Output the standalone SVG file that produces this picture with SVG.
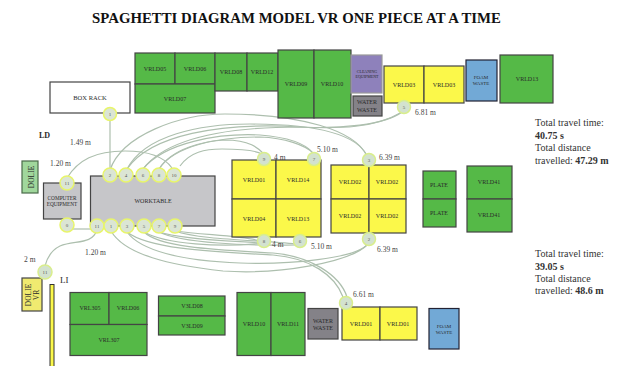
<svg xmlns="http://www.w3.org/2000/svg" width="618" height="366" viewBox="0 0 618 366">
<style>
text{font-family:"Liberation Serif",serif;fill:#2a2a2a}
.l{font-size:6px;text-anchor:middle}
.b{stroke:#444;stroke-width:1.2}
.g{fill:#55b947}.y{fill:#fbf84a}.gr{fill:#c6c6c9}.bl{fill:#72a9d6}.w{fill:#848288}
.n{fill:#dbe5d4;stroke:#e8f56a;stroke-width:1.5}
.ng{fill:#d3e2cf;stroke:#d9ee8c;stroke-width:1.5}
.t{font-size:5px;text-anchor:middle;fill:#555}
.d{font-size:7.5px;fill:#444}
.s{font-size:10px;fill:#333}
.c{fill:none;stroke:#adbfae;stroke-width:1.2}
</style>
<rect width="618" height="366" fill="#fff"/>
<text x="296.500" y="23" text-anchor="middle" font-size="14.800" font-weight="bold" style="fill:#111">SPAGHETTI DIAGRAM MODEL VR ONE PIECE AT A TIME</text>
<g id="connectors">
<path class="c" d="M110 118V170"/>
<path class="c" d="M110 170C122 135 180 114 225 114C300 114 355 130 367 156"/>
<path class="c" d="M127 169C145 135 200 124 250 124C300 124 355 130 367 156"/>
<path class="c" d="M127 169C150 135 220 122 300 127C340 129 385 125 402 112"/>
<path class="c" d="M143 169C165 140 220 127 300 127C340 129 375 128 402 112"/>
<path class="c" d="M143 169C165 142 220 133 260 135C285 137 305 143 313 153"/>
<path class="c" d="M159 169C175 145 220 137 260 137C285 138 305 145 313 153"/>
<path class="c" d="M159 169C172 148 205 141 225 140C250 140 258 148 264 154"/>
<path class="c" d="M180 166C190 152 205 149 222 149C240 149 255 150 262 154"/>
<path class="c" d="M67 178C78 160 95 151 125 151C150 151 165 158 172 168"/>
<path class="c" d="M72 229H97"/>
<path class="c" d="M97 230C92 245 75 240 60 246C52 250 47 258 45 266"/>
<path class="c" d="M111 231C125 255 170 265 223 271C280 275 350 262 367 245"/>
<path class="c" d="M127 232C140 250 180 261 240 263C290 265 355 258 367 245"/>
<path class="c" d="M127 232C150 250 220 252 273 255C310 258 335 275 343 297"/>
<path class="c" d="M144 232C160 248 220 250 273 253C310 256 340 275 347 297"/>
<path class="c" d="M144 232C165 244 220 248 264 243"/>
<path class="c" d="M159 232C180 243 250 246 296 245"/>
<path class="c" d="M159 232C185 240 235 241 260 243"/>
<path class="c" d="M175 231C200 240 260 240 296 244"/>
<path class="c" d="M175 231C205 235 245 236 260 241"/>
</g>
<g id="box-rack"><rect class="b" x="50" y="82" width="80" height="31" fill="#fff"/><text class="l" x="90" y="100" style="font-size:6.500px">BOX RACK</text></g>
<g id="vrld05"><rect class="b g" x="135" y="53" width="40" height="31"/><text class="l" x="155" y="71">VRLD05</text></g>
<g id="vrld06"><rect class="b g" x="175" y="53" width="40" height="31"/><text class="l" x="195" y="71">VRLD06</text></g>
<g id="vrld07"><rect class="b g" x="135" y="84" width="80" height="29"/><text class="l" x="175" y="101">VRLD07</text></g>
<g id="vrld08"><rect class="b g" x="215" y="53" width="32" height="38"/><text class="l" x="231" y="74">VRLD08</text></g>
<g id="vrld12"><rect class="b g" x="247" y="53" width="31" height="38"/><text class="l" x="262" y="74">VRLD12</text></g>
<g id="vrld09"><rect class="b g" x="278" y="50" width="36" height="68"/><text class="l" x="296" y="86">VRLD09</text></g>
<g id="vrld10"><rect class="b g" x="314" y="50" width="37" height="68"/><text class="l" x="332" y="86">VRLD10</text></g>
<g id="cleaning"><rect x="351" y="55" width="31" height="38" fill="#8e81bb" stroke="#999" stroke-width="1.2"/><text x="367" y="73" font-size="4" text-anchor="middle">CLEANING</text><text x="367" y="78" font-size="4" text-anchor="middle">EQUIPMENT</text></g>
<g id="water-waste-top"><rect class="b w" x="353" y="96" width="29" height="20"/><text class="l" x="367" y="104">WATER</text><text class="l" x="367" y="112">WASTE</text></g>
<g id="vrld03a"><rect class="b y" x="384" y="66" width="40" height="37"/><text class="l" x="404" y="87">VRLD03</text></g>
<g id="vrld03b"><rect class="b y" x="424" y="66" width="40" height="37"/><text class="l" x="444" y="87">VRLD03</text></g>
<g id="foam-waste-top"><rect x="466" y="60" width="31" height="41" class="bl" stroke="#223" stroke-width="1.2"/><text x="481" y="79" font-size="5" text-anchor="middle">FOAM</text><text x="481" y="85" font-size="5" text-anchor="middle">WASTE</text></g>
<g id="vrld13"><rect class="b g" x="500" y="55" width="53" height="48"/><text class="l" x="527" y="81">VRLD13</text></g>
<g id="dolie"><rect x="22" y="161" width="16" height="32" fill="#a0d79c" stroke="#4a6b4a" stroke-width="1.2"/><text font-size="7.500" text-anchor="middle" transform="translate(33.500 177) rotate(-90)">DOLIE</text></g>
<g id="computer"><rect class="b gr" x="43.500" y="183" width="37.500" height="36"/><text class="l" x="62" y="200" style="font-size:5.300px">COMPUTER</text><text class="l" x="62" y="206" style="font-size:5.300px">EQUIPMENT</text></g>
<g id="worktable"><rect class="b gr" x="90.500" y="176" width="124.500" height="50"/><text class="l" x="153" y="203">WORKTABLE</text></g>
<g id="vrld01a"><rect class="b y" x="232" y="160" width="44" height="39"/><text class="l" x="254" y="182">VRLD01</text></g>
<g id="vrld14"><rect class="b y" x="276" y="160" width="45" height="39"/><text class="l" x="298" y="182">VRLD14</text></g>
<g id="vrld04"><rect class="b y" x="232" y="199" width="44" height="38"/><text class="l" x="254" y="221">VRLD04</text></g>
<g id="vrld13b"><rect class="b y" x="276" y="199" width="45" height="38"/><text class="l" x="298" y="221">VRLD13</text></g>
<g id="vrld02a"><rect class="b y" x="331" y="165" width="38" height="34"/><text class="l" x="350" y="184">VRLD02</text></g>
<g id="vrld02b"><rect class="b y" x="369" y="165" width="37" height="34"/><text class="l" x="387" y="184">VRLD02</text></g>
<g id="vrld02c"><rect class="b y" x="331" y="199" width="38" height="34"/><text class="l" x="350" y="218">VRLD02</text></g>
<g id="vrld02d"><rect class="b y" x="369" y="199" width="37" height="34"/><text class="l" x="387" y="218">VRLD02</text></g>
<g id="plate-a"><rect class="b g" x="423" y="171" width="33" height="28"/><text class="l" x="439" y="187">PLATE</text></g>
<g id="plate-b"><rect class="b g" x="423" y="199" width="33" height="28"/><text class="l" x="439" y="215">PLATE</text></g>
<g id="vrld41a"><rect class="b g" x="467" y="166" width="45" height="33"/><text class="l" x="489" y="184">VRLD41</text></g>
<g id="vrld41b"><rect class="b g" x="467" y="199" width="45" height="33"/><text class="l" x="489" y="217">VRLD41</text></g>
<g id="dolie-vr"><rect class="b" x="22" y="278" width="20" height="33" fill="#f0ea70"/><text font-size="7.500" text-anchor="middle" transform="translate(30.500 295) rotate(-90)">DOLIE</text><text font-size="7.500" text-anchor="middle" transform="translate(39 295) rotate(-90)">VR</text></g>
<g id="li-bar"><rect x="50" y="284.500" width="4" height="82" fill="#fbf84a" stroke="#333"/></g>
<g id="vrl305"><rect class="b g" x="70" y="292.500" width="39" height="32"/><text class="l" x="90" y="310">VRL305</text></g>
<g id="vrld06b"><rect class="b g" x="109" y="292.500" width="38" height="32"/><text class="l" x="128" y="310">VRLD06</text></g>
<g id="vrl307"><rect class="b g" x="70" y="324.500" width="77" height="31"/><text class="l" x="109" y="342">VRL307</text></g>
<g id="v3ld08"><rect class="b g" x="158.500" y="296" width="66.500" height="20"/><text class="l" x="192" y="308">V3LD08</text></g>
<g id="v3ld09"><rect class="b g" x="158.500" y="316" width="66.500" height="19"/><text class="l" x="192" y="328">V3LD09</text></g>
<g id="vrld10b"><rect class="b g" x="237" y="292.500" width="34" height="63"/><text class="l" x="254" y="326">VRLD10</text></g>
<g id="vrld11"><rect class="b g" x="271" y="292.500" width="34" height="63"/><text class="l" x="288" y="326">VRLD11</text></g>
<g id="water-waste-bottom"><rect class="b w" x="308" y="308.500" width="30" height="30.500"/><text class="l" x="323" y="323">WATER</text><text class="l" x="323" y="330">WASTE</text></g>
<g id="vrld01b"><rect class="b y" x="342" y="307" width="38" height="33"/><text class="l" x="361" y="326">VRLD01</text></g>
<g id="vrld01c"><rect class="b y" x="380" y="307" width="37" height="33"/><text class="l" x="398" y="326">VRLD01</text></g>
<g id="foam-waste-bottom"><rect x="429" y="308.500" width="30" height="40.500" class="bl" stroke="#223" stroke-width="1.2"/><text x="444" y="328" font-size="5" text-anchor="middle">FOAM</text><text x="444" y="334" font-size="5" text-anchor="middle">WASTE</text></g>
<g id="markers">
<g id="m-t1"><circle class="n" cx="110" cy="114" r="6.500"/><text class="t" x="110" y="116">1</text></g>
<g id="m-t2"><circle class="n" cx="110" cy="175" r="7"/><text class="t" x="110" y="177">2</text></g>
<g id="m-t4"><circle class="n" cx="126" cy="175" r="7"/><text class="t" x="126" y="177">4</text></g>
<g id="m-t6"><circle class="n" cx="143" cy="175" r="7"/><text class="t" x="143" y="177">6</text></g>
<g id="m-t8"><circle class="n" cx="159" cy="175" r="7"/><text class="t" x="159" y="177">8</text></g>
<g id="m-t10"><circle class="n" cx="174" cy="175" r="7"/><text class="t" x="174" y="177">10</text></g>
<g id="m-c1"><circle class="n" cx="67" cy="183" r="7"/><text class="t" x="67" y="185">11</text></g>
<g id="m-c2"><circle class="n" cx="67" cy="225" r="7"/><text class="t" x="67" y="227">0</text></g>
<g id="m-b1"><circle class="n" cx="97" cy="226" r="7"/><text class="t" x="97" y="228">11</text></g>
<g id="m-b2"><circle class="n" cx="111" cy="226" r="7"/><text class="t" x="111" y="228">1</text></g>
<g id="m-b3"><circle class="n" cx="127" cy="226" r="7"/><text class="t" x="127" y="228">3</text></g>
<g id="m-b4"><circle class="n" cx="144" cy="226" r="7"/><text class="t" x="144" y="228">5</text></g>
<g id="m-b5"><circle class="n" cx="159" cy="226" r="7"/><text class="t" x="159" y="228">7</text></g>
<g id="m-b6"><circle class="n" cx="175" cy="226" r="7"/><text class="t" x="175" y="228">9</text></g>
<g id="m-d"><circle class="ng" cx="45" cy="272" r="7"/><text class="t" x="45" y="274">11</text></g>
<g id="m-y9"><circle class="ng" cx="264" cy="159" r="6.500"/><text class="t" x="264" y="161">9</text></g>
<g id="m-y7"><circle class="ng" cx="314" cy="159" r="6.500"/><text class="t" x="314" y="161">7</text></g>
<g id="m-y3"><circle class="ng" cx="369" cy="160" r="6.500"/><text class="t" x="369" y="162">3</text></g>
<g id="m-y8"><circle class="ng" cx="264" cy="241" r="6.500"/><text class="t" x="264" y="243">8</text></g>
<g id="m-y6"><circle class="ng" cx="300" cy="241" r="6.500"/><text class="t" x="300" y="243">6</text></g>
<g id="m-y2"><circle class="ng" cx="369" cy="239" r="6.500"/><text class="t" x="369" y="241">2</text></g>
<g id="m-y5"><circle class="ng" cx="404" cy="107" r="6.500"/><text class="t" x="404" y="109">5</text></g>
<g id="m-y4"><circle class="ng" cx="346" cy="303" r="6.500"/><text class="t" x="346" y="305">4</text></g>
</g>
<g id="labels">
<text x="39" y="138" font-size="8" font-weight="bold">LD</text>
<text x="60" y="283" font-size="9">LI</text>
<text class="d" x="70" y="145">1.49 m</text>
<text class="d" x="50" y="166">1.20 m</text>
<text class="d" x="85" y="255">1.20 m</text>
<text class="d" x="24" y="262">2 m</text>
<text class="d" x="415" y="115">6.81 m</text>
<text class="d" x="317" y="152">5.10 m</text>
<text class="d" x="379" y="160">6.39 m</text>
<text class="d" x="274" y="160">4 m</text>
<text class="d" x="272" y="247">4 m</text>
<text class="d" x="311" y="249">5.10 m</text>
<text class="d" x="377" y="252">6.39 m</text>
<text class="d" x="353" y="297">6.61 m</text>
<text class="s" x="535" y="126">Total travel time:</text>
<text class="s" x="535" y="139" font-weight="bold">40.75 s</text>
<text class="s" x="535" y="151">Total distance</text>
<text class="s" x="535" y="164">travelled: <tspan font-weight="bold">47.29 m</tspan></text>
<text class="s" x="535" y="257">Total travel time:</text>
<text class="s" x="535" y="270" font-weight="bold">39.05 s</text>
<text class="s" x="535" y="282">Total distance</text>
<text class="s" x="535" y="294">travelled: <tspan font-weight="bold">48.6 m</tspan></text>
</g>
</svg>
